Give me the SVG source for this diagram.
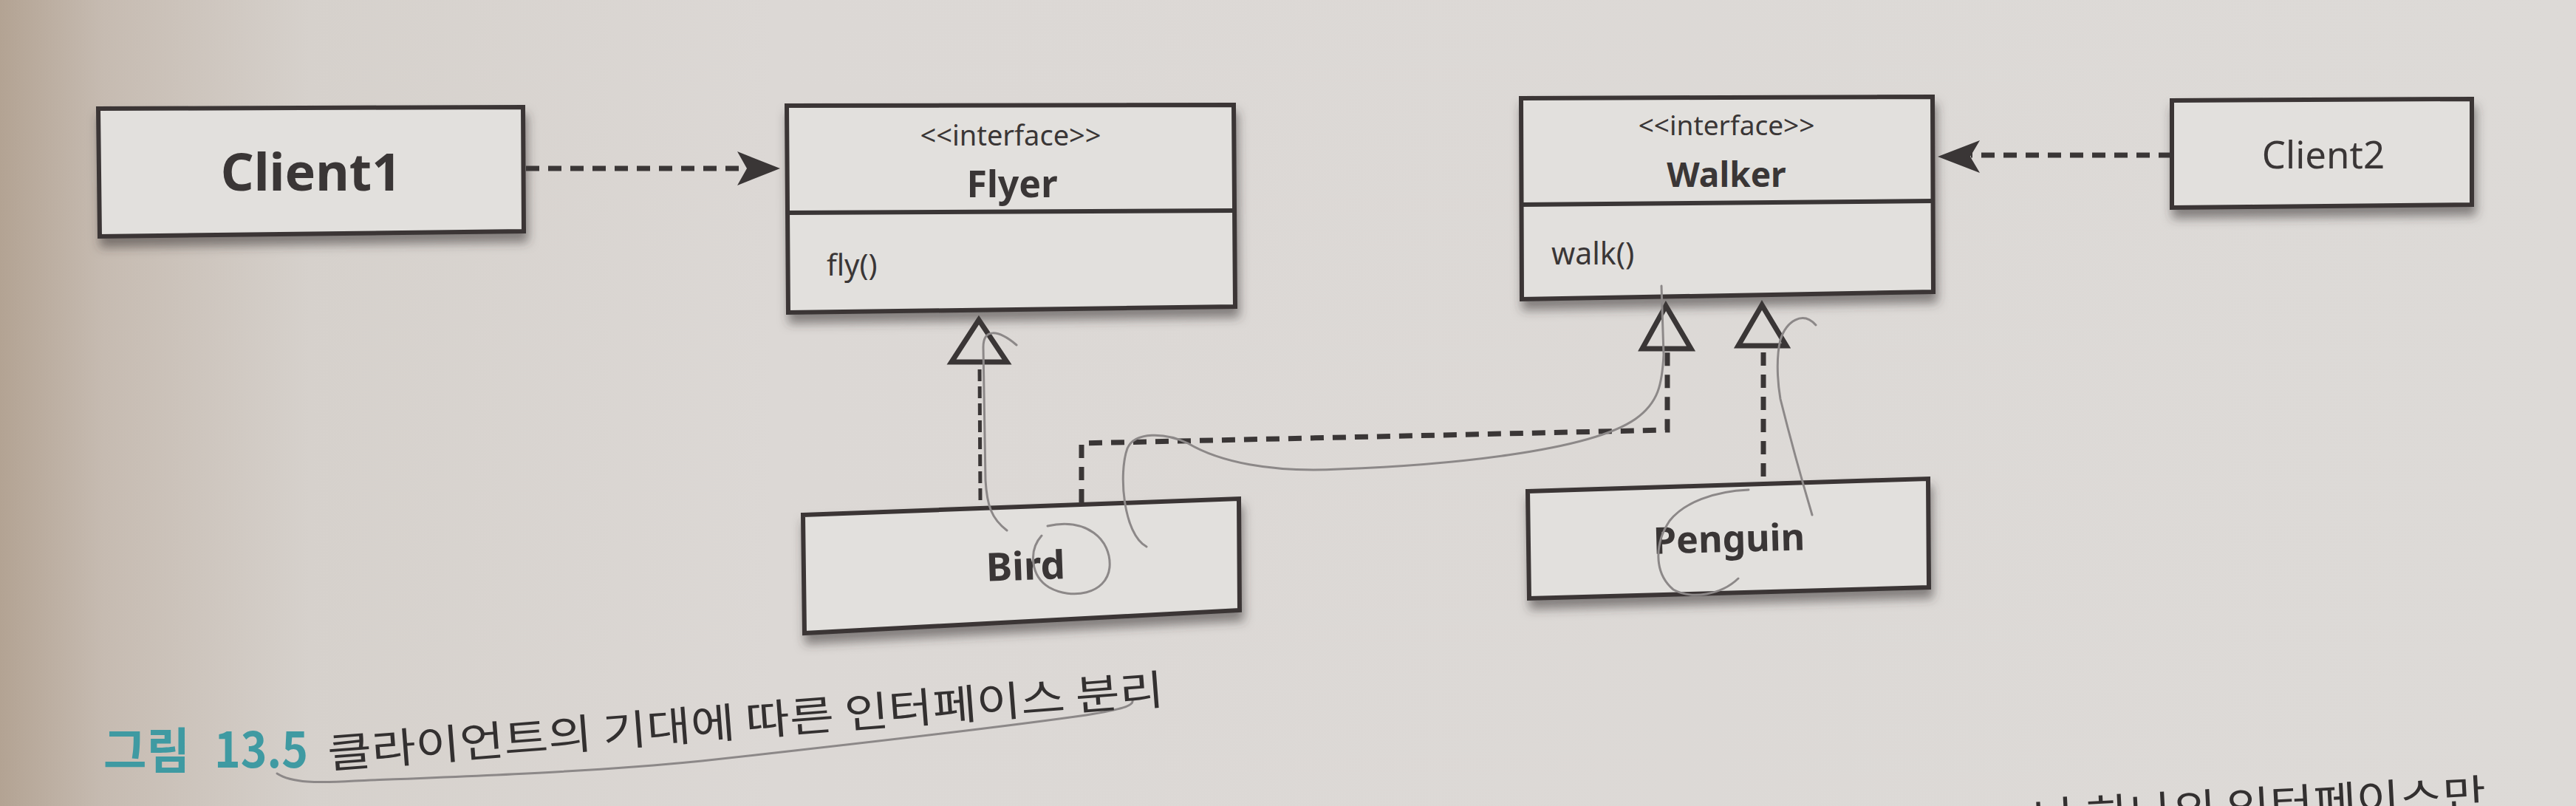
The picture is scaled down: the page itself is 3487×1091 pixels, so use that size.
<svg xmlns="http://www.w3.org/2000/svg" width="3487" height="1091" viewBox="0 0 3487 1091">
<defs>
<linearGradient id="page" x1="0" y1="0" x2="1" y2="0">
<stop offset="0" stop-color="#b3a393"/>
<stop offset="0.04" stop-color="#c6bbb1"/>
<stop offset="0.12" stop-color="#d6d1cc"/>
<stop offset="0.3" stop-color="#dcd8d5"/>
<stop offset="1" stop-color="#dddad7"/>
</linearGradient>
<filter id="shadow" x="-10%" y="-20%" width="125%" height="160%">
<feDropShadow dx="3" dy="12" stdDeviation="7" flood-color="#3a3535" flood-opacity="0.55"/>
</filter>
<style>
.box{fill:#e2e0dd;stroke:#3a3636;stroke-width:6;stroke-linejoin:miter}
.div{fill:none;stroke:#3a3636;stroke-width:6}
.t{font-family:"Noto Sans","Open Sans","Liberation Sans",sans-serif;fill:#3a3636}
.b{font-weight:bold}
.c{text-anchor:middle}
.dash{fill:none;stroke:#3a3636;stroke-width:7;stroke-dasharray:18 12}
.thin{fill:none;stroke:#3a3636;stroke-width:5;stroke-dasharray:16 7}
.tri{fill:#dcd9d6;stroke:#3a3636;stroke-width:7;stroke-linejoin:miter}
.head{fill:#3a3636}
.pen{fill:none;stroke:#8c8888;stroke-width:3;stroke-linecap:round}
.cap{font-family:"Noto Sans CJK KR","Noto Sans",sans-serif}
</style>
</defs>
<rect width="3487" height="1091" fill="url(#page)"/>

<g id="Client1">
<path class="box" filter="url(#shadow)" d="M133,147 L708,145 L709,313 L135,320 Z"/>
<text class="t b c" x="421" y="258" font-size="70">Client1</text>
</g>

<g id="Flyer">
<path class="box" filter="url(#shadow)" d="M1065,143 L1670,142 L1672,415 L1067,423 Z"/>
<path class="div" d="M1066,288 L1671,285"/>
<text class="t c" x="1368" y="197" font-size="38">&lt;&lt;interface&gt;&gt;</text>
<text class="t b c" x="1370" y="267" font-size="50">Flyer</text>
<text class="t" x="1119" y="373" font-size="40">fly()</text>
</g>

<g id="Walker">
<path class="box" filter="url(#shadow)" d="M2059,133 L2616,131 L2617,395 L2060,405 Z"/>
<path class="div" d="M2060,277 L2616,272"/>
<text class="t c" x="2337" y="183" font-size="37">&lt;&lt;interface&gt;&gt;</text>
<text class="t b c" x="2337" y="253" font-size="46">Walker</text>
<text class="t" x="2100" y="358" font-size="41">walk()</text>
</g>

<g id="Client2">
<path class="box" filter="url(#shadow)" d="M2940,136 L3346,134 L3346,277 L2940,281 Z"/>
<text class="t c" x="3145" y="228" font-size="51">Client2</text>
</g>

<g id="Bird">
<path class="box" filter="url(#shadow)" d="M1087,697 L1677,675 L1678,826 L1089,857 Z"/>
<text class="t b c" x="1389" y="785" font-size="53" transform="rotate(-2 1389 785)">Bird</text>
</g>

<g id="Penguin">
<path class="box" filter="url(#shadow)" d="M2068,665 L2610,648 L2611,795 L2070,810 Z"/>
<text class="t b c" x="2341" y="747" font-size="50" transform="rotate(-1.5 2341 747)">Penguin</text>
</g>

<g id="connectors">
<path class="dash" d="M712,228 L1010,228" stroke-width="8"/>
<path class="head" d="M1056,228 L998,205 L1011,228 L998,251 Z"/>
<path class="dash" d="M2940,210 L2668,210" stroke-width="8"/>
<path class="head" d="M2623,212 L2680,190 L2667,212 L2680,234 Z"/>

<path class="thin" d="M1327,677 L1326,492"/>
<path class="tri" d="M1325,433 L1288,490 L1363,490 Z"/>

<path class="dash" d="M1464,680 L1464,600 L2257,582 L2257,474" stroke-width="6"/>
<path class="tri" d="M2255,414 L2223,472 L2289,472 Z"/>

<path class="dash" d="M2387,645 L2387,470"/>
<path class="tri" d="M2385,413 L2353,468 L2418,468 Z"/>
</g>

<g id="annotations">
<path class="pen" d="M1363,718 C1342,702 1336,684 1334,650 L1331,470 C1331,445 1350,445 1376,467"/>
<path class="pen" d="M1418,712 C1470,700 1505,730 1502,768 C1498,805 1450,812 1420,795 C1395,780 1392,745 1410,725"/>
<path class="pen" d="M1552,740 C1520,722 1514,640 1526,607 C1536,584 1577,585 1608,600 C1650,625 1720,640 1813,635 C1950,630 2150,612 2214,567 C2245,545 2250,520 2252,480 L2249,387"/>
<path class="pen" d="M2367,663 C2320,665 2280,680 2260,705 C2240,735 2238,775 2265,798 C2290,812 2330,805 2353,783"/>
<path class="pen" d="M2453,697 C2445,670 2425,600 2410,540 C2405,510 2405,480 2410,460 C2418,435 2440,420 2458,440"/>
<path class="pen" d="M375,1047 C395,1060 430,1060 480,1057 C650,1050 800,1045 950,1030 C1150,1008 1350,985 1470,968 C1520,960 1535,955 1533,948" stroke="#6f6b6b" stroke-width="5"/>
</g>

<g id="caption">
<text class="cap" font-size="66" font-weight="bold" fill="#3f9aa2"><tspan x="140" y="1040" textLength="117" lengthAdjust="spacingAndGlyphs">그림</tspan><tspan x="290" y="1039" textLength="127" lengthAdjust="spacingAndGlyphs">13.5</tspan></text>
<text class="cap" x="445" y="1040" font-size="56" fill="#333030" textLength="1135" lengthAdjust="spacingAndGlyphs" transform="rotate(-4.4 445 1040)">클라이언트의 기대에 따른 인터페이스 분리</text>
<text class="cap" x="2753" y="1127" font-size="56" fill="#333030" textLength="614" lengthAdjust="spacingAndGlyphs" transform="rotate(-3 2753 1127)">나 하나의 인터페이스만</text>
</g>
</svg>
